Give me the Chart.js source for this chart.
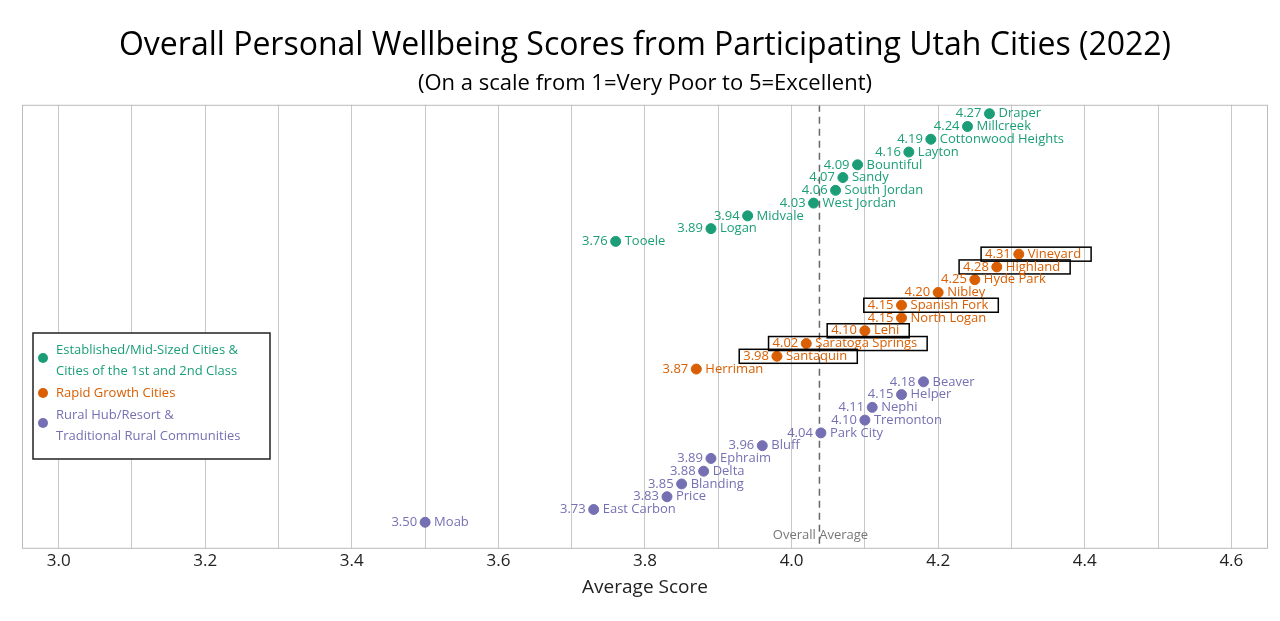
<!DOCTYPE html>
<html><head><meta charset="utf-8">
<script src="https://cdn.jsdelivr.net/npm/chart.js@4"></script>
<style>body{margin:0;background:#fff}#wrap{width:1280px;height:621px}</style>
</head><body><div id="wrap"><canvas id="c"></canvas></div>
<script>
const estNames = ['Draper','Millcreek','Cottonwood Heights','Layton','Bountiful','Sandy','South Jordan','West Jordan','Midvale','Logan','Tooele'];
const estScores = [4.27,4.24,4.19,4.16,4.09,4.07,4.06,4.03,3.94,3.89,3.76];
const growNames = ['Vineyard','Highland','Hyde Park','Nibley','Spanish Fork','North Logan','Lehi','Saratoga Springs','Santaquin','Herriman'];
const growScores = [4.31,4.28,4.25,4.20,4.15,4.15,4.10,4.02,3.98,3.87];
const growBoxed = [true,true,false,false,true,false,true,true,true,false];
const ruralNames = ['Beaver','Helper','Nephi','Tremonton','Park City','Bluff','Ephraim','Delta','Blanding','Price','East Carbon','Moab'];
const ruralScores = [4.18,4.15,4.11,4.10,4.04,3.96,3.89,3.88,3.85,3.83,3.73,3.50];
const overallAverage = 4.038;
const xTicks = [3.0,3.1,3.2,3.3,3.4,3.5,3.6,3.7,3.8,3.9,4.0,4.1,4.2,4.3,4.4,4.5,4.6];
const legendLabels = [['Established/Mid-Sized Cities &','Cities of the 1st and 2nd Class'],['Rapid Growth Cities'],['Rural Hub/Resort &','Traditional Rural Communities']];
const colors = ['#1b9e77','#d95f02','#7570b3'];

// rows run top to bottom, groups stacked
const nEst = estNames.length, nGrow = growNames.length, nRural = ruralNames.length;
const toPts = (scores, off, names, boxed) => scores.map((s, i) => ({x: s, y: off + i, name: names[i], boxed: boxed ? boxed[i] : false}));
const estPts = toPts(estScores, 0, estNames);
const growPts = toPts(growScores, nEst, growNames, growBoxed);
const ruralPts = toPts(ruralScores, nEst + nGrow, ruralNames);
const yMin = -0.7, yMax = 34;

const labelPlugin = {
  id: 'labels',
  afterDatasetsDraw(chart) {
    const ctx = chart.ctx, xs = chart.scales.x, ys = chart.scales.y, ca = chart.chartArea;
    ctx.save();
    ctx.font = '13px "Open Sans", sans-serif';
    ctx.textBaseline = 'middle';
    [0,1,2].forEach(di => {
      chart.data.datasets[di].data.forEach(p => {
        const px = xs.getPixelForValue(p.x), py = ys.getPixelForValue(p.y);
        const v = p.x.toFixed(2);
        const vw = ctx.measureText(v).width, nw = ctx.measureText(p.name).width;
        if (p.boxed) {
          ctx.strokeStyle = '#000'; ctx.lineWidth = 1.5;
          ctx.strokeRect(px - 8 - vw - 4, py - 7, vw + nw + 17 + 8 + 6, 14);
        }
        ctx.fillStyle = colors[di];
        ctx.textAlign = 'right'; ctx.fillText(v, px - 8, py);
        ctx.textAlign = 'left'; ctx.fillText(p.name, px + 9, py);
      });
    });
    // overall average label
    ctx.fillStyle = '#777'; ctx.textAlign = 'center';
    ctx.fillText('Overall Average', xs.getPixelForValue(overallAverage) + 1, ys.getPixelForValue(nEst + nGrow + nRural));
    // plot border
    ctx.strokeStyle = '#bbb'; ctx.lineWidth = 1;
    ctx.strokeRect(ca.left + 0.5, ca.top + 0.5, ca.right - ca.left - 1, ca.bottom - ca.top);
    // legend
    const lx = 33, ly = 333, lw = 237, lh = 126;
    ctx.fillStyle = '#fff'; ctx.fillRect(lx, ly, lw, lh);
    ctx.strokeStyle = '#222'; ctx.lineWidth = 1.5; ctx.strokeRect(lx, ly, lw, lh);
    let yy = ly + 17;
    legendLabels.forEach((lines, i) => {
      ctx.fillStyle = colors[i];
      ctx.beginPath(); ctx.arc(lx + 10, yy + (lines.length > 1 ? 8 : 0), 5, 0, Math.PI * 2); ctx.fill();
      ctx.textAlign = 'left';
      lines.forEach((t, j) => ctx.fillText(t, lx + 23, yy + j * 21));
      yy += lines.length * 21 + 1;
    });
    ctx.restore();
  }
};

new Chart(document.getElementById('c'), {
  type: 'scatter',
  data: {
    datasets: [
      {data: estPts, backgroundColor: colors[0], borderColor: colors[0], pointRadius: 5},
      {data: growPts, backgroundColor: colors[1], borderColor: colors[1], pointRadius: 5},
      {data: ruralPts, backgroundColor: colors[2], borderColor: colors[2], pointRadius: 5},
      {type: 'line', data: [{x: overallAverage, y: yMin}, {x: overallAverage, y: yMax}], borderColor: '#666', borderWidth: 1.5, borderDash: [7, 5], pointRadius: 0}
    ]
  },
  options: {
    responsive: true, maintainAspectRatio: false, animation: false,
    layout: {padding: {left: 22, right: 12, top: 0, bottom: 18}},
    plugins: {
      legend: {display: false}, tooltip: {enabled: false},
      title: {display: true, text: 'Overall Personal Wellbeing Scores from Participating Utah Cities (2022)', color: '#000', font: {size: 32, family: '"Open Sans", sans-serif', weight: 'normal'}, padding: {top: 27, bottom: 5}},
      subtitle: {display: true, text: '(On a scale from 1=Very Poor to 5=Excellent)', color: '#000', font: {size: 22, family: '"Open Sans", sans-serif'}, padding: {bottom: 8}}
    },
    scales: {
      x: {
        type: 'linear', min: 2.95, max: 4.65,
        afterBuildTicks: s => { s.ticks = xTicks.map(v => ({value: v})); },
        ticks: {autoSkip: false, maxRotation: 0, color: '#222', font: {size: 17, family: '"Open Sans", sans-serif'},
          callback: (v) => Math.round(v * 10) % 2 === 0 ? v.toFixed(1) : ''},
        grid: {color: '#c8c8c8', drawTicks: false},
        border: {display: false},
        title: {display: true, text: 'Average Score', color: '#222', font: {size: 19, family: '"Open Sans", sans-serif'}, padding: {top: 2}}
      },
      y: {type: 'linear', min: yMin, max: yMax, reverse: true, display: false}
    }
  },
  plugins: [labelPlugin]
});
</script></body></html>
